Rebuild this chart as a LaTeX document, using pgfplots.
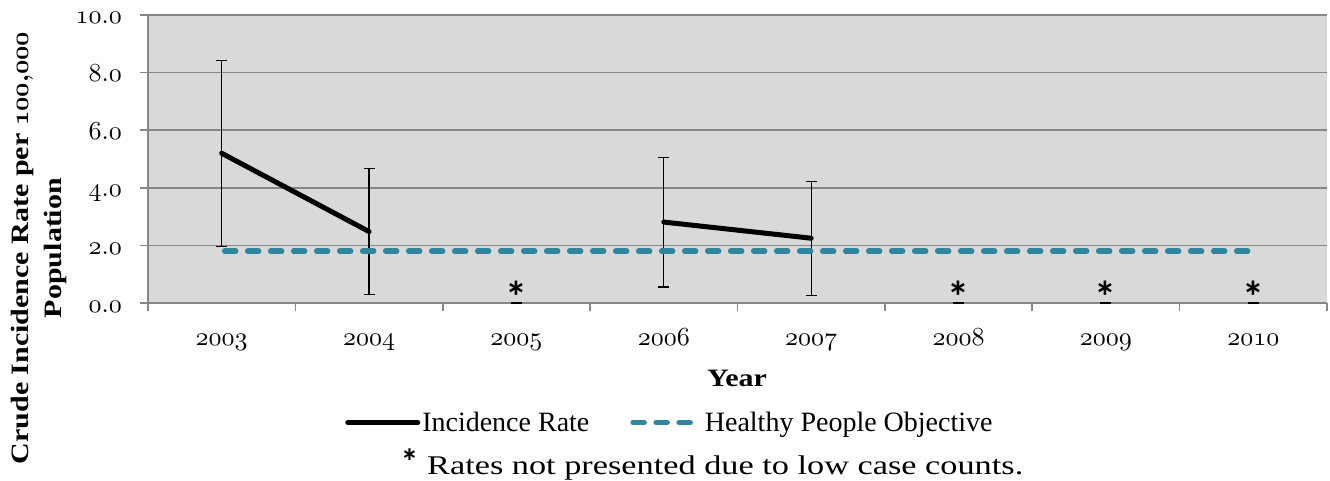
\documentclass[border=0pt]{standalone}
\usepackage{pgfplots}
\pgfplotsset{compat=1.18}
\usepackage{fontspec}
\setmainfont{Liberation Serif}[FakeStretch=1.2]
\newfontfamily\legfont{Liberation Serif}
\newfontfamily\notefont{Liberation Serif}[FakeStretch=1.27]
\newfontfamily\calibri{Carlito}
\DeclareFontFamily{OML}{myoml}{\skewchar\font=127}
\DeclareFontShape{OML}{myoml}{m}{it}{<-> cmmi10}{}
\DeclareFontShape{OML}{myoml}{b}{it}{<-> cmmib10}{}
\newcommand\oml{\fontencoding{OML}\fontfamily{myoml}\fontseries{m}\fontshape{it}\selectfont}
\newcommand\omlb{\fontencoding{OML}\fontfamily{myoml}\fontseries{b}\fontshape{it}\selectfont}
\newcommand\pt{\char58 }
\newcommand\osn[1]{{\oml #1}}
\definecolor{bggray}{HTML}{D9D9D9}
\definecolor{gridgray}{HTML}{878787}
\definecolor{hpteal}{HTML}{31859C}
\pgfplotstableread{
x y e
0 5.20 3.23
1 2.48 2.18
2 nan 0
3 2.81 2.25
4 2.25 1.98
}\ratedata
\begin{document}
\begin{tikzpicture}
\begin{axis}[
  scale only axis,
  width=1179bp, height=288bp,
  xmin=-0.5, xmax=7.5,
  ymin=0, ymax=10,
  clip=false,
  axis lines*=left,
  axis line style={-, draw=gridgray, line width=1.6bp},
  axis background/.style={fill=bggray},
  ymajorgrids,
  grid style={draw=gridgray, line width=1.6bp},
  tick align=outside,
  major tick length=8bp,
  tick style={draw=gridgray, line width=1.6bp},
  ytick={0,2,4,6,8,10},
  yticklabels={\osn{0\pt 0},\osn{2\pt 0},\osn{4\pt 0},\osn{6\pt 0},\osn{8\pt 0},\osn{10\pt 0}},
  yticklabel style={font=\fontsize{26bp}{30bp}\selectfont, anchor=base east, inner sep=0pt, xshift=-18bp, yshift=-9bp},
  xtick={-0.5,0.5,...,7.5},
  xticklabels={},
  extra x ticks={0,1,2,3,4,5,6,7},
  extra x tick labels={\osn{2003},\osn{2004},\osn{2005},\osn{2006},\osn{2007},\osn{2008},\osn{2009},\osn{2010}},
  extra x tick style={major tick length=0pt, grid=none,
     xticklabel style={font=\fontsize{26bp}{30bp}\selectfont, anchor=base, inner sep=0pt, yshift=-42bp}},
  legend columns=2,
  legend style={at={(axis description cs:0.4427,-0.415)}, anchor=center, draw=none, fill=none,
     font=\legfont\fontsize{28bp}{32bp}\selectfont,
     nodes={inner sep=2bp},
     /tikz/every even column/.append style={column sep=36bp}},
  legend image code/.code={\draw[#1] (0bp,0bp) -- (70bp,0bp);},
]
\addplot[black, line width=5bp, line cap=round, line join=round, unbounded coords=jump,
  error bars/.cd, y dir=both, y explicit,
  error bar style={line width=1.3bp, black, line cap=butt},
  error mark options={rotate=90, mark size=5.5bp, line width=1.3bp, black}]
  table[x=x, y=y, y error=e] {\ratedata};
\addlegendentry{Incidence Rate}
\addplot[hpteal, line width=5.5bp, dash pattern=on 11bp off 12bp, dash phase=20bp, line cap=round]
  coordinates {(0,1.8) (1,1.8) (2,1.8) (3,1.8) (4,1.8) (5,1.8) (6,1.8) (7,1.8)};
\addlegendentry{Healthy People Objective}
\addplot[forget plot, only marks, mark=-, mark size=5.5bp, mark options={black, line width=1.8bp},
  nodes near coords={\calibri\bfseries *},
  every node near coord/.style={font=\fontsize{44bp}{44bp}\selectfont, anchor=south, inner sep=0pt, yshift=-10bp}]
  coordinates {(2,0) (5,0) (6,0) (7,0)};
\end{axis}
\node[rotate=90, align=center, font=\bfseries\fontsize{25bp}{33bp}\selectfont]
  at (-109.5bp,55bp) {Crude Incidence Rate per {\omlb 100\char59 000}\\Population};
\node[font=\bfseries\fontsize{25bp}{30bp}\selectfont] at (589bp,-75bp) {Year};
\node[font=\notefont\fontsize{27bp}{32bp}\selectfont, inner sep=1bp] at (564bp,-161bp)
  {{\calibri\fontsize{36bp}{36bp}\selectfont\bfseries *}\ Rates not presented due to low case counts.};
\pgfresetboundingbox
\path (-148bp,-178bp) rectangle (1182bp,303bp);
\end{tikzpicture}
\end{document}
